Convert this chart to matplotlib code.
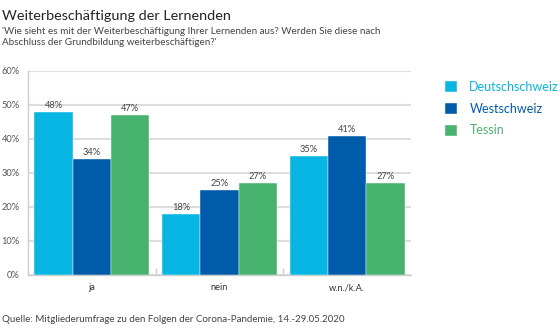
import matplotlib
matplotlib.use("Agg")
import matplotlib.pyplot as plt
import numpy as np

categories = ["ja", "nein", "w.n./k.A."]
series = ["Deutschschweiz", "Westschweiz", "Tessin"]
deutschschweiz = [48, 18, 35]
westschweiz = [34, 25, 41]
tessin = [47, 27, 27]
yticks = [0, 10, 20, 30, 40, 50, 60]
colors = ["#07B6E3", "#005BAA", "#48B36E"]

plt.rcParams['font.family'] = ['Lato', 'DejaVu Sans']

fig = plt.figure(figsize=(5.6, 3.36), dpi=100)
ax = fig.add_axes([28/560, 61/336, (411-28)/560, (275-71)/336])

x = np.arange(len(categories))
w = 0.3
data = [deutschschweiz, westschweiz, tessin]
handles = []
for i, (vals, c, name) in enumerate(zip(data, colors, series)):
    bars = ax.bar(x + (i - 1) * w, vals, width=w, color=c, label=name, zorder=3,
                  edgecolor="white", linewidth=0.3)
    handles.append(bars)
    for xi, v in zip(x + (i - 1) * w, vals):
        ax.annotate(f"{v}%", (xi, v), xytext=(0, 1.5), textcoords="offset points",
                    ha="center", va="bottom", fontsize=6.7, color="#444444", zorder=4)

ax.set_xlim(-0.5, 2.5)
ax.set_ylim(0, 60)
ax.set_yticks(yticks)
ax.set_yticklabels([f"{t}%" for t in yticks], fontsize=6.7, color="#555555")
ax.set_xticks(x)
ax.set_xticklabels(categories, fontsize=6.7, color="#333333")
ax.tick_params(axis="both", length=0, pad=6)
ax.set_xticks([0.5, 1.5], minor=True)
ax.tick_params(axis="x", which="minor", length=5, direction="in", color="#cccccc", width=1)
ax.yaxis.grid(True, color="#dddddd", linewidth=1.5, zorder=0)
for s in ["top", "right"]:
    ax.spines[s].set_visible(False)
ax.spines["left"].set_color("#cccccc")
ax.spines["bottom"].set_color("#cccccc")
ax.spines["left"].set_linewidth(1)
ax.spines["bottom"].set_linewidth(1)

fig.text(2/560, 1 - 16/336, "Weiterbeschäftigung der Lernenden", fontsize=10.4, color="#222222", va="center", ha="left")
fig.text(2/560, 1 - 37/336,
         "'Wie sieht es mit der Weiterbeschäftigung Ihrer Lernenden aus? Werden Sie diese nach\nAbschluss der Grundbildung weiterbeschäftigen?'",
         fontsize=7.1, color="#444444", va="center", ha="left", linespacing=1.3)
fig.text(2/560, 1 - 320/336, "Quelle: Mitgliederumfrage zu den Folgen der Corona-Pandemie, 14.-29.05.2020",
         fontsize=7.0, color="#444444", va="center", ha="left")

leg = fig.legend(handles=handles, labels=series, loc="upper left",
                 bbox_to_anchor=(445/560, 1 - 81/336), frameon=False, fontsize=9.0,
                 handlelength=0.95, handleheight=0.95, handletextpad=1.0, labelspacing=0.78,
                 labelcolor=colors, borderpad=0, borderaxespad=0)

fig.savefig("out.png", dpi=100)
